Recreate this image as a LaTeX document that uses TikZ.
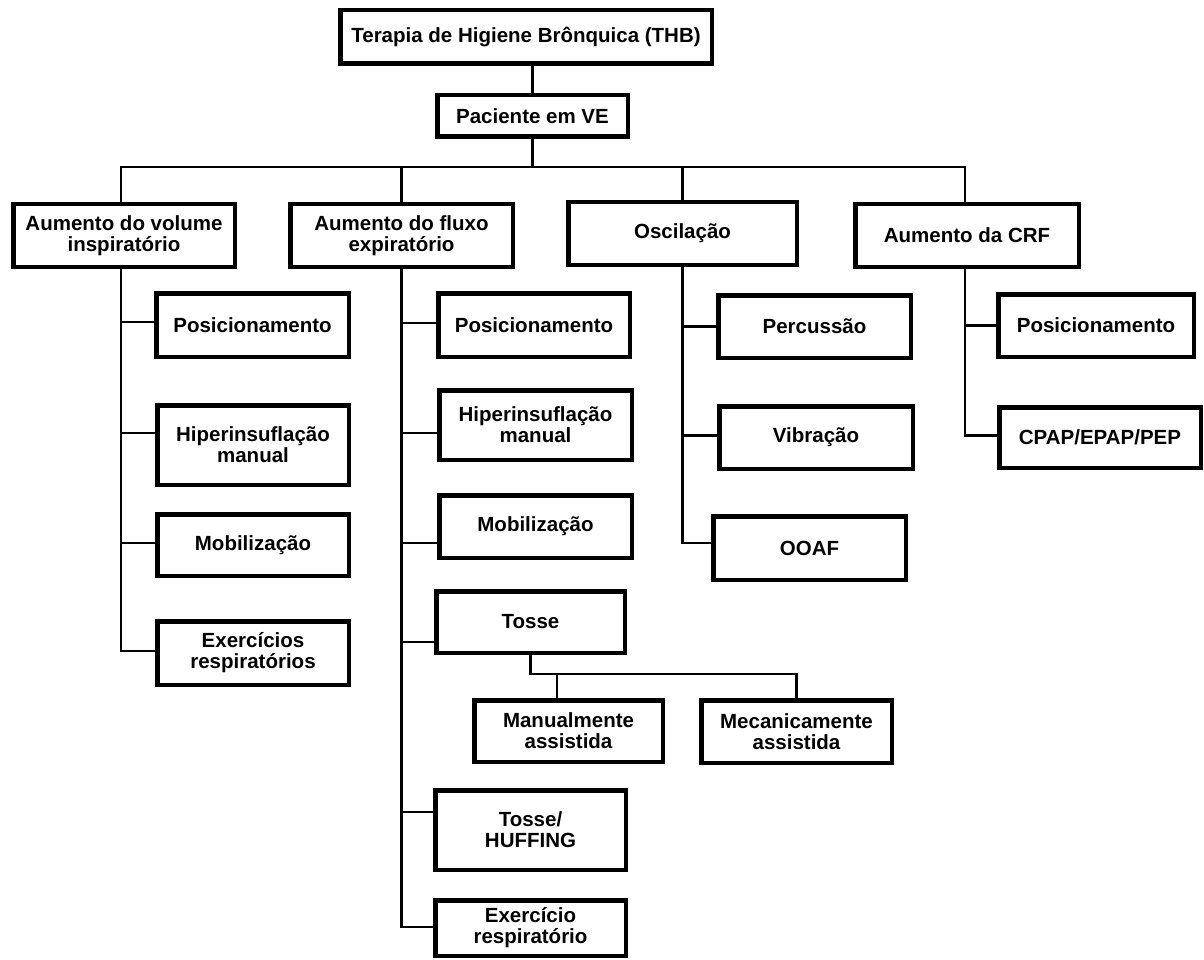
\documentclass[tikz,border=0pt]{standalone}
\usepackage{fontspec}
\setmainfont{Liberation Sans}
\usetikzlibrary{calc}
\tikzset{
  tbox/.style={draw=black, line width=4.5pt, fill=white, inner sep=0pt, align=center,
    font=\fontsize{20.5}{21}\selectfont\bfseries},
  conn/.style={draw=black, line width=2.5pt, line cap=rect}
}
\newcommand{\bxnode}[6]{%
  \pgfmathsetmacro\bxw{#4-#2-4.5}\pgfmathsetmacro\bxh{#5-#3-4.5}%
  \pgfmathsetmacro\bxcx{(#2+#4)/2}\pgfmathsetmacro\bxcy{(#3+#5)/2}%
  \node[tbox, minimum width=\bxw pt, minimum height=\bxh pt] (#1) at (\bxcx,\bxcy) {#6};}
\begin{document}
\begin{tikzpicture}[x=1pt, y=-1pt]
\useasboundingbox[fill=white] (0,0) rectangle (1204,960);
\coordinate (bus) at (0,167);
\coordinate (tjy) at (0,674);
% boxes
\bxnode{thb}{338}{8}{714}{66}{Terapia de Higiene Brônquica (THB)}
\bxnode{pac}{435}{93}{630}{139}{Paciente em VE}
\bxnode{b1}{11}{202}{237}{269}{Aumento do volume\\inspiratório}
\bxnode{b2}{288}{202}{515}{269}{Aumento do fluxo\\expiratório}
\bxnode{b3}{566}{200}{799}{267}{Oscilação}
\bxnode{b4}{853}{202}{1081}{269}{Aumento da CRF}
% column 1
\bxnode{c1a}{154}{291}{351}{359}{Posicionamento}
\bxnode{c1b}{155}{403}{351}{487}{Hiperinsuflação\\manual}
\bxnode{c1c}{155}{512}{351}{578}{Mobilização}
\bxnode{c1d}{155}{619}{351}{687}{Exercícios\\respiratórios}
% column 2
\bxnode{c2a}{436}{291}{632}{359}{Posicionamento}
\bxnode{c2b}{437}{388}{634}{462}{Hiperinsuflação\\manual}
\bxnode{c2c}{437}{493}{634}{560}{Mobilização}
\bxnode{c2d}{434}{589}{627}{655}{Tosse}
\bxnode{m1}{472}{698}{665}{764}{Manualmente\\assistida}
\bxnode{m2}{699}{698}{894}{765}{Mecanicamente\\assistida}
\bxnode{c2e}{433}{788}{628}{872}{Tosse/\\HUFFING}
\bxnode{c2f}{433}{898}{628}{958}{Exercício\\respiratório}
% column 3
\bxnode{p}{716}{293}{913}{360}{Percussão}
\bxnode{v}{717}{404}{915}{471}{Vibração}
\bxnode{o}{711}{514}{908}{582}{OOAF}
% column 4
\bxnode{q1}{996}{292}{1196}{359}{Posicionamento}
\bxnode{q2}{997}{405}{1203}{470}{CPAP/EPAP/PEP}
% connectors
\draw[conn] (pac.north) -- (pac.north |- thb.south);
\draw[conn] (pac.south) -- (pac.south |- bus);
\draw[conn] ([xshift=-3pt]b1.north) -- ([xshift=-3pt]b1.north |- bus) -| ([xshift=-2pt]b4.north);
\draw[conn] (b2.north) -- (b2.north |- bus);
\draw[conn] (b3.north) -- (b3.north |- bus);
% column 1
\draw[conn] ([xshift=-3pt]b1.south) |- ([yshift=3pt]c1a.west);
\draw[conn] ([xshift=-3pt]b1.south) |- ([yshift=12pt]c1b.west);
\draw[conn] ([xshift=-3pt]b1.south) |- ([yshift=2pt]c1c.west);
\draw[conn] ([xshift=-3pt]b1.south) |- ([yshift=2pt]c1d.west);
% column 2
\draw[conn] (b2.south) |- ([yshift=2pt]c2a.west);
\draw[conn] (b2.south) |- ([yshift=-8pt]c2b.west);
\draw[conn] (b2.south) |- ([yshift=-16.5pt]c2c.west);
\draw[conn] (b2.south) |- ([yshift=-20pt]c2d.west);
\draw[conn] (b2.south) |- ([yshift=18pt]c2e.west);
\draw[conn] (b2.south) |- ([yshift=1pt]c2f.west);
\draw[conn] (c2d.south) -- (c2d.south |- tjy) -| (m2.north);
\draw[conn] ([xshift=-11.5pt]m1.north) -- ([xshift=-11.5pt]m1.north |- tjy);
% column 3
\draw[conn] (b3.south) |- (p.west);
\draw[conn] (b3.south) |- ([yshift=2pt]v.west);
\draw[conn] (b3.south) |- ([yshift=5pt]o.west);
% column 4
\draw[conn] ([xshift=-2pt]b4.south) |- (q1.west);
\draw[conn] ([xshift=-2pt]b4.south) |- ([yshift=2pt]q2.west);
\end{tikzpicture}
\end{document}
